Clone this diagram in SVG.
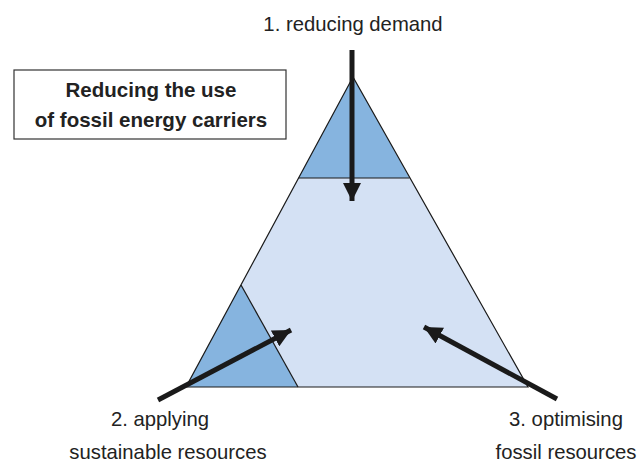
<svg xmlns="http://www.w3.org/2000/svg" width="639" height="462" viewBox="0 0 639 462">
<style>
.lbl{font-family:"Liberation Sans",Arial,sans-serif;font-size:20.3px;fill:#222;text-anchor:middle}
.ttl{font-family:"Liberation Sans",Arial,sans-serif;font-size:20.5px;font-weight:bold;fill:#222;text-anchor:middle}
.edge{stroke:#1a1a1a;stroke-width:1.2;fill:none}
.arr{stroke:#1a1a1a;stroke-width:5;fill:none;marker-end:url(#ah)}
</style>
<defs>
<marker id="ah" markerUnits="userSpaceOnUse" markerWidth="20" markerHeight="18" refX="18" refY="9" orient="auto">
<path d="M0,0 L18,9 L0,18 Z" fill="#1a1a1a"/>
</marker>
</defs>
<rect width="639" height="462" fill="#fff"/>
<g id="triangle">
<polygon points="353,77 186,387 528,387" fill="#d4e1f4"/>
<polygon points="353,77 298.6,178 409.5,178" fill="#86b4df"/>
<polygon points="241,285 186,387 298,387" fill="#86b4df"/>
<polygon points="353,77 186,387 528,387" class="edge"/>
<line x1="298.6" y1="178" x2="409.5" y2="178" class="edge"/>
<polyline points="241,285 298,387" class="edge"/>
</g>
<g id="title">
<rect x="14" y="70" width="272" height="69" fill="#fff" stroke="#333" stroke-width="1.2"/>
<text class="ttl" x="151" y="97">Reducing the use</text>
<text class="ttl" x="151" y="127">of fossil energy carriers</text>
</g>
<g id="label1"><text class="lbl" x="353" y="31">1. reducing demand</text></g>
<g id="label2"><text class="lbl" x="160" y="426">2. applying</text><text class="lbl" x="168" y="459">sustainable resources</text></g>
<g id="label3"><text class="lbl" x="566" y="426">3. optimising</text><text class="lbl" x="566" y="459">fossil resources</text></g>
<g id="connectors">
<line class="arr" x1="352" y1="50" x2="352" y2="201"/>
<line class="arr" x1="158" y1="400" x2="291" y2="330"/>
<line class="arr" x1="557" y1="399" x2="424" y2="327"/>
</g>
</svg>
